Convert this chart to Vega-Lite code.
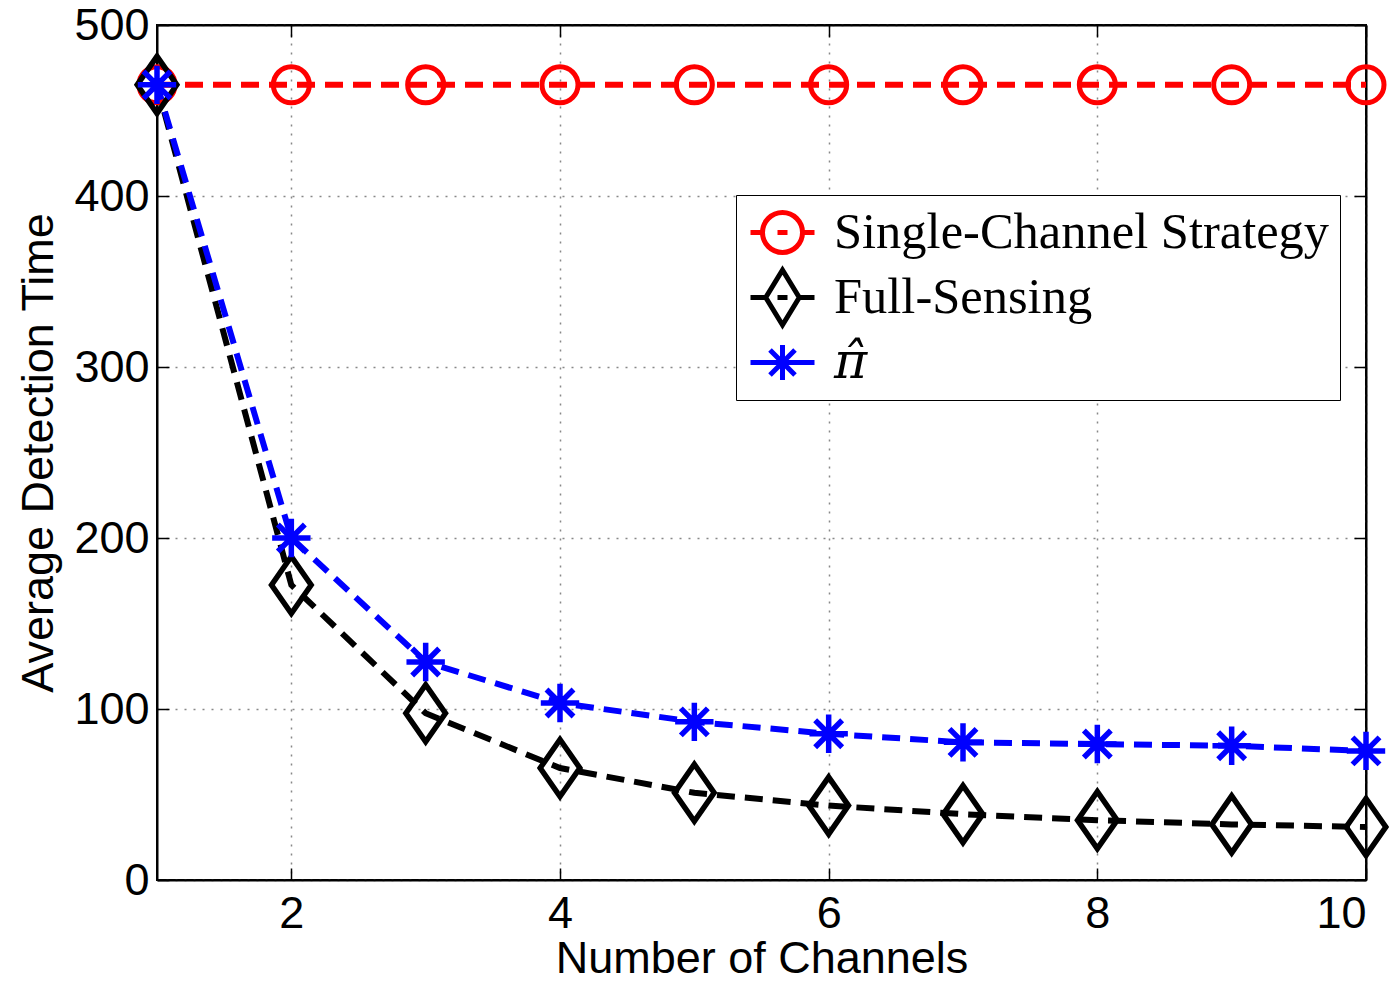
{
  "$schema": "https://vega.github.io/schema/vega-lite/v6.json",
  "width": 1209,
  "height": 855,
  "autosize": {"type": "none"},
  "padding": {"left": 157, "top": 25, "right": 33, "bottom": 101},
  "background": "white",
  "config": {
    "view": {"stroke": "black", "strokeWidth": 2},
    "axis": {
      "labelFont": "Liberation Sans",
      "titleFont": "Liberation Sans",
      "labelFontSize": 45,
      "titleFontSize": 45,
      "labelColor": "black",
      "titleColor": "black",
      "titleFontWeight": "normal",
      "domainColor": "black",
      "domainWidth": 2,
      "tickColor": "black",
      "tickWidth": 1.5,
      "tickSize": -12,
      "gridColor": "#888888",
      "gridDash": [2, 7],
      "gridWidth": 1.5,
      "labelOverlap": false
    }
  },
  "data": {
    "values": [
      {"n": 1, "series": "Single-Channel Strategy", "t": 465},
      {"n": 2, "series": "Single-Channel Strategy", "t": 465},
      {"n": 3, "series": "Single-Channel Strategy", "t": 465},
      {"n": 4, "series": "Single-Channel Strategy", "t": 465},
      {"n": 5, "series": "Single-Channel Strategy", "t": 465},
      {"n": 6, "series": "Single-Channel Strategy", "t": 465},
      {"n": 7, "series": "Single-Channel Strategy", "t": 465},
      {"n": 8, "series": "Single-Channel Strategy", "t": 465},
      {"n": 9, "series": "Single-Channel Strategy", "t": 465},
      {"n": 10, "series": "Single-Channel Strategy", "t": 465},
      {"n": 1, "series": "Full-Sensing", "t": 465},
      {"n": 2, "series": "Full-Sensing", "t": 172.5},
      {"n": 3, "series": "Full-Sensing", "t": 97.5},
      {"n": 4, "series": "Full-Sensing", "t": 65.5},
      {"n": 5, "series": "Full-Sensing", "t": 51},
      {"n": 6, "series": "Full-Sensing", "t": 43.5},
      {"n": 7, "series": "Full-Sensing", "t": 38.5},
      {"n": 8, "series": "Full-Sensing", "t": 35},
      {"n": 9, "series": "Full-Sensing", "t": 32.5},
      {"n": 10, "series": "Full-Sensing", "t": 31},
      {"n": 1, "series": "π̂", "t": 465},
      {"n": 2, "series": "π̂", "t": 200},
      {"n": 3, "series": "π̂", "t": 127.5},
      {"n": 4, "series": "π̂", "t": 103.5},
      {"n": 5, "series": "π̂", "t": 92.5},
      {"n": 6, "series": "π̂", "t": 85.5},
      {"n": 7, "series": "π̂", "t": 80.5},
      {"n": 8, "series": "π̂", "t": 79.5},
      {"n": 9, "series": "π̂", "t": 78.5},
      {"n": 10, "series": "π̂", "t": 75.5}
    ]
  },
  "layer": [
    {
      "mark": {"type": "line", "strokeWidth": 6, "strokeDash": [18, 10]},
      "encoding": {
        "x": {"field": "n", "type": "quantitative", "scale": {"domain": [1, 10]},
              "axis": {"orient": "top", "values": [2, 4, 6, 8, 10], "labels": false, "grid": false, "title": null}},
        "y": {"field": "t", "type": "quantitative", "scale": {"domain": [0, 500]},
              "axis": {"orient": "right", "values": [0, 100, 200, 300, 400, 500], "labels": false, "grid": false, "title": null}},
        "color": {"field": "series", "type": "nominal",
                  "scale": {"domain": ["Single-Channel Strategy", "Full-Sensing", "π̂"], "range": ["#ff0000", "#000000", "#0000ff"]},
                  "legend": {
                    "title": null,
                    "orient": "none",
                    "legendX": 579,
                    "legendY": 170,
                    "padding": 10,
                    "symbolOffset": 9,
                    "fillColor": "white",
                    "strokeColor": "black",
                    "labelFont": "Liberation Serif",
                    "labelFontSize": 50.5,
                    "labelColor": "black",
                    "labelOffset": 24,
                    "rowPadding": -3,
                    "symbolSize": 2500,
                    "symbolStrokeWidth": 5,
                    "symbolType": "circle",
                    "labelLimit": 800,
                    "encode": {
                      "symbols": {
                        "update": {
                          "shape": {"signal": "datum.value === 'Single-Channel Strategy' ? 'M-1.28,0L-0.8,0M0.8,0L1.28,0M-0.8,0A0.8,0.8,0,1,1,0.8,0A0.8,0.8,0,1,1,-0.8,0ZM-0.2,0L0.2,0' : (datum.value === 'Full-Sensing' ? 'M-1.28,0L-0.67,0M0.67,0L1.28,0M0,-1.1L0.67,0L0,1.1L-0.67,0ZM-0.2,0L0.2,0' : 'M-1.28,0L1.28,0M0,-0.7L0,0.7M-0.5,-0.5L0.5,0.5M-0.5,0.5L0.5,-0.5')"},
                          "size": {"value": 2500},
                          "strokeWidth": {"value": 5},
                          "fill": {"value": "transparent"},
                          "opacity": {"value": 1},
                          "strokeDash": {"value": []}
                        }
                      },
                      "labels": {
                        "update": {
                          "font": {"signal": "datum.value === 'π̂' ? 'DejaVu Serif' : 'Liberation Serif'"},
                          "fontStyle": {"signal": "datum.value === 'π̂' ? 'italic' : 'normal'"}
                        }
                      }
                    }
                  }}
      }
    },
    {
      "transform": [{"filter": "datum.series === 'Single-Channel Strategy'"}],
      "mark": {"type": "point", "filled": false, "strokeWidth": 5, "opacity": 1, "size": 3600,
               "shape": "M-0.6,0A0.6,0.6,0,1,1,0.6,0A0.6,0.6,0,1,1,-0.6,0Z"},
      "encoding": {
        "x": {"field": "n", "type": "quantitative", "scale": {"domain": [1, 10]},
              "axis": {"orient": "bottom", "values": [2, 4, 6, 8, 10], "grid": true, "title": "Number of Channels", "labelPadding": 23, "titlePadding": 0}},
        "y": {"field": "t", "type": "quantitative", "scale": {"domain": [0, 500]},
              "axis": {"orient": "left", "values": [0, 100, 200, 300, 400, 500], "grid": true, "title": "Average Detection Time", "labelPadding": 20, "titlePadding": 12}},
        "color": {"field": "series", "type": "nominal"}
      }
    },
    {
      "transform": [{"filter": "datum.series === 'Full-Sensing'"}],
      "mark": {"type": "point", "filled": false, "strokeWidth": 5.5, "opacity": 1, "size": 3600,
               "shape": "M0,-0.95L0.66,0L0,0.95L-0.66,0Z"},
      "encoding": {
        "x": {"field": "n", "type": "quantitative", "axis": null},
        "y": {"field": "t", "type": "quantitative", "axis": null},
        "color": {"field": "series", "type": "nominal"}
      }
    },
    {
      "transform": [{"filter": "datum.series === 'π̂'"}],
      "mark": {"type": "point", "filled": false, "strokeWidth": 5.5, "opacity": 1, "size": 3600,
               "shape": "M-0.64,0L0.64,0M0,-0.64L0,0.64M-0.45,-0.45L0.45,0.45M-0.45,0.45L0.45,-0.45"},
      "encoding": {
        "x": {"field": "n", "type": "quantitative", "axis": null},
        "y": {"field": "t", "type": "quantitative", "axis": null},
        "color": {"field": "series", "type": "nominal"}
      }
    }
  ],
  "resolve": {"axis": {"x": "independent", "y": "independent"}}
}
